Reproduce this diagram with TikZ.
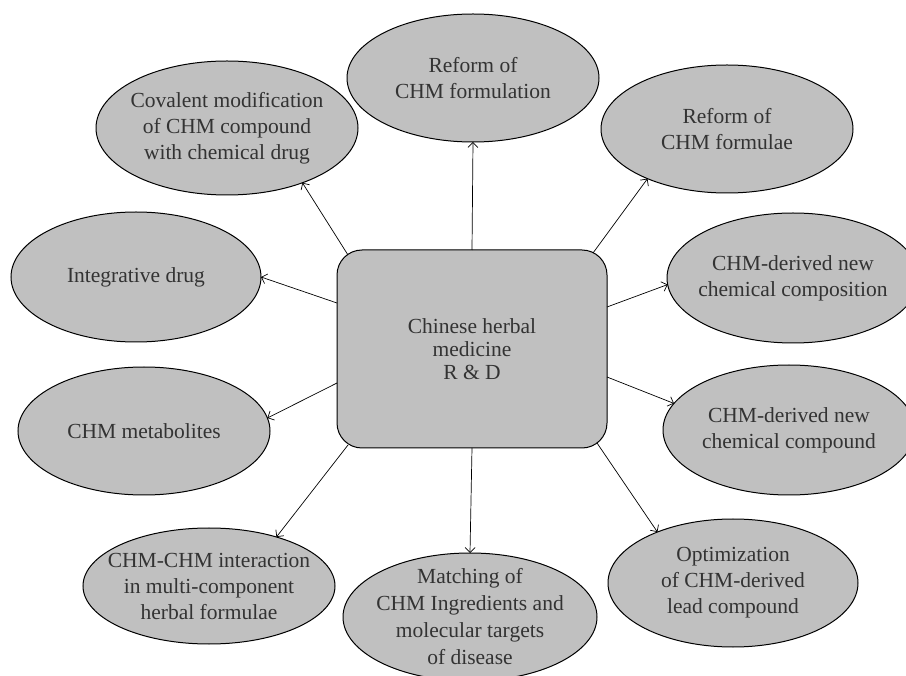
\documentclass[tikz,border=0pt]{standalone}
\usepackage{fontspec}
\setmainfont{Liberation Serif}
\usetikzlibrary{shapes.geometric,arrows.meta,calc}
\definecolor{bubblegrey}{RGB}{192,192,192}
\definecolor{inkgrey}{RGB}{51,51,51}

\begin{document}
\begin{tikzpicture}[x=1pt,y=-1pt,
    bubble/.style={ellipse,draw,line width=1pt,fill=bubblegrey,minimum width=252pt,minimum height=128pt,inner sep=-20pt,outer sep=0pt,align=center,text=inkgrey,font=\fontsize{21.5}{26}\selectfont},
    hub/.style={rectangle,rounded corners=25pt,draw,line width=1pt,fill=bubblegrey,minimum width=270pt,minimum height=198pt,inner sep=0pt,outer sep=0pt,align=center,text=inkgrey,font=\fontsize{21.5}{23}\selectfont},
    link/.style={-{Straight Barb[length=5pt,width=10pt]},line width=0.7pt}]
    \useasboundingbox (0,0) rectangle (906,676);
    \clip (0,0) rectangle (906,676);
    \node[hub] (rnd) at (472,349) {Chinese herbal\\medicine\\R \& D};
    \node[bubble] (formn) at (473,78) {Reform of\\CHM formulation};
    \node[bubble,minimum width=262pt,minimum height=134pt] (covmod) at (227,128) {Covalent modification\\of CHM compound\\with chemical drug};
    \node[bubble] (formae) at (727,129) {Reform of\\CHM formulae};
    \node[bubble,minimum width=250pt,minimum height=130pt] (integ) at (136,277) {Integrative drug};
    \node[bubble,minimum height=130pt] (compos) at (793,278) {CHM-derived new\\chemical composition};
    \node[bubble] (metab) at (144,431) {CHM metabolites};
    \node[bubble,minimum height=130pt] (cmpd) at (789,430) {CHM-derived new\\chemical compound};
    \node[bubble,minimum height=116pt] (interact) at (209,586) {CHM-CHM interaction\\in multi-component\\herbal formulae};
    \node[bubble,minimum width=254pt,font=\fontsize{21.5}{27}\selectfont] (match) at (470,617) {Matching of\\CHM Ingredients and\\molecular targets\\of disease};
    \node[bubble,minimum width=250pt] (optim) at (733,583) {Optimization\\of CHM-derived\\lead compound};

    \draw[link] (rnd.north) -- (formn.south);
    \draw[link] ($(rnd.north west)+(11,5)$) -- (covmod.-36);
    \draw[link] ($(rnd.north east)+(-14,3)$) -- (formae.-148);
    \draw[link] ($(rnd.north west)+(0,53)$) -- (integ.east);
    \draw[link] ($(rnd.north east)+(0,57)$) -- (compos.183);
    \draw[link] ($(rnd.south west)+(0,-65)$) -- (metab.6);
    \draw[link] ($(rnd.south east)+(0,-71)$) -- (cmpd.167);
    \draw[link] ($(rnd.south west)+(11,-3)$) -- (interact.36);
    \draw[link] (rnd.south) -- (match.north);
    \draw[link] ($(rnd.south east)+(-10,-5)$) -- (optim.146);
\end{tikzpicture}
\end{document}
